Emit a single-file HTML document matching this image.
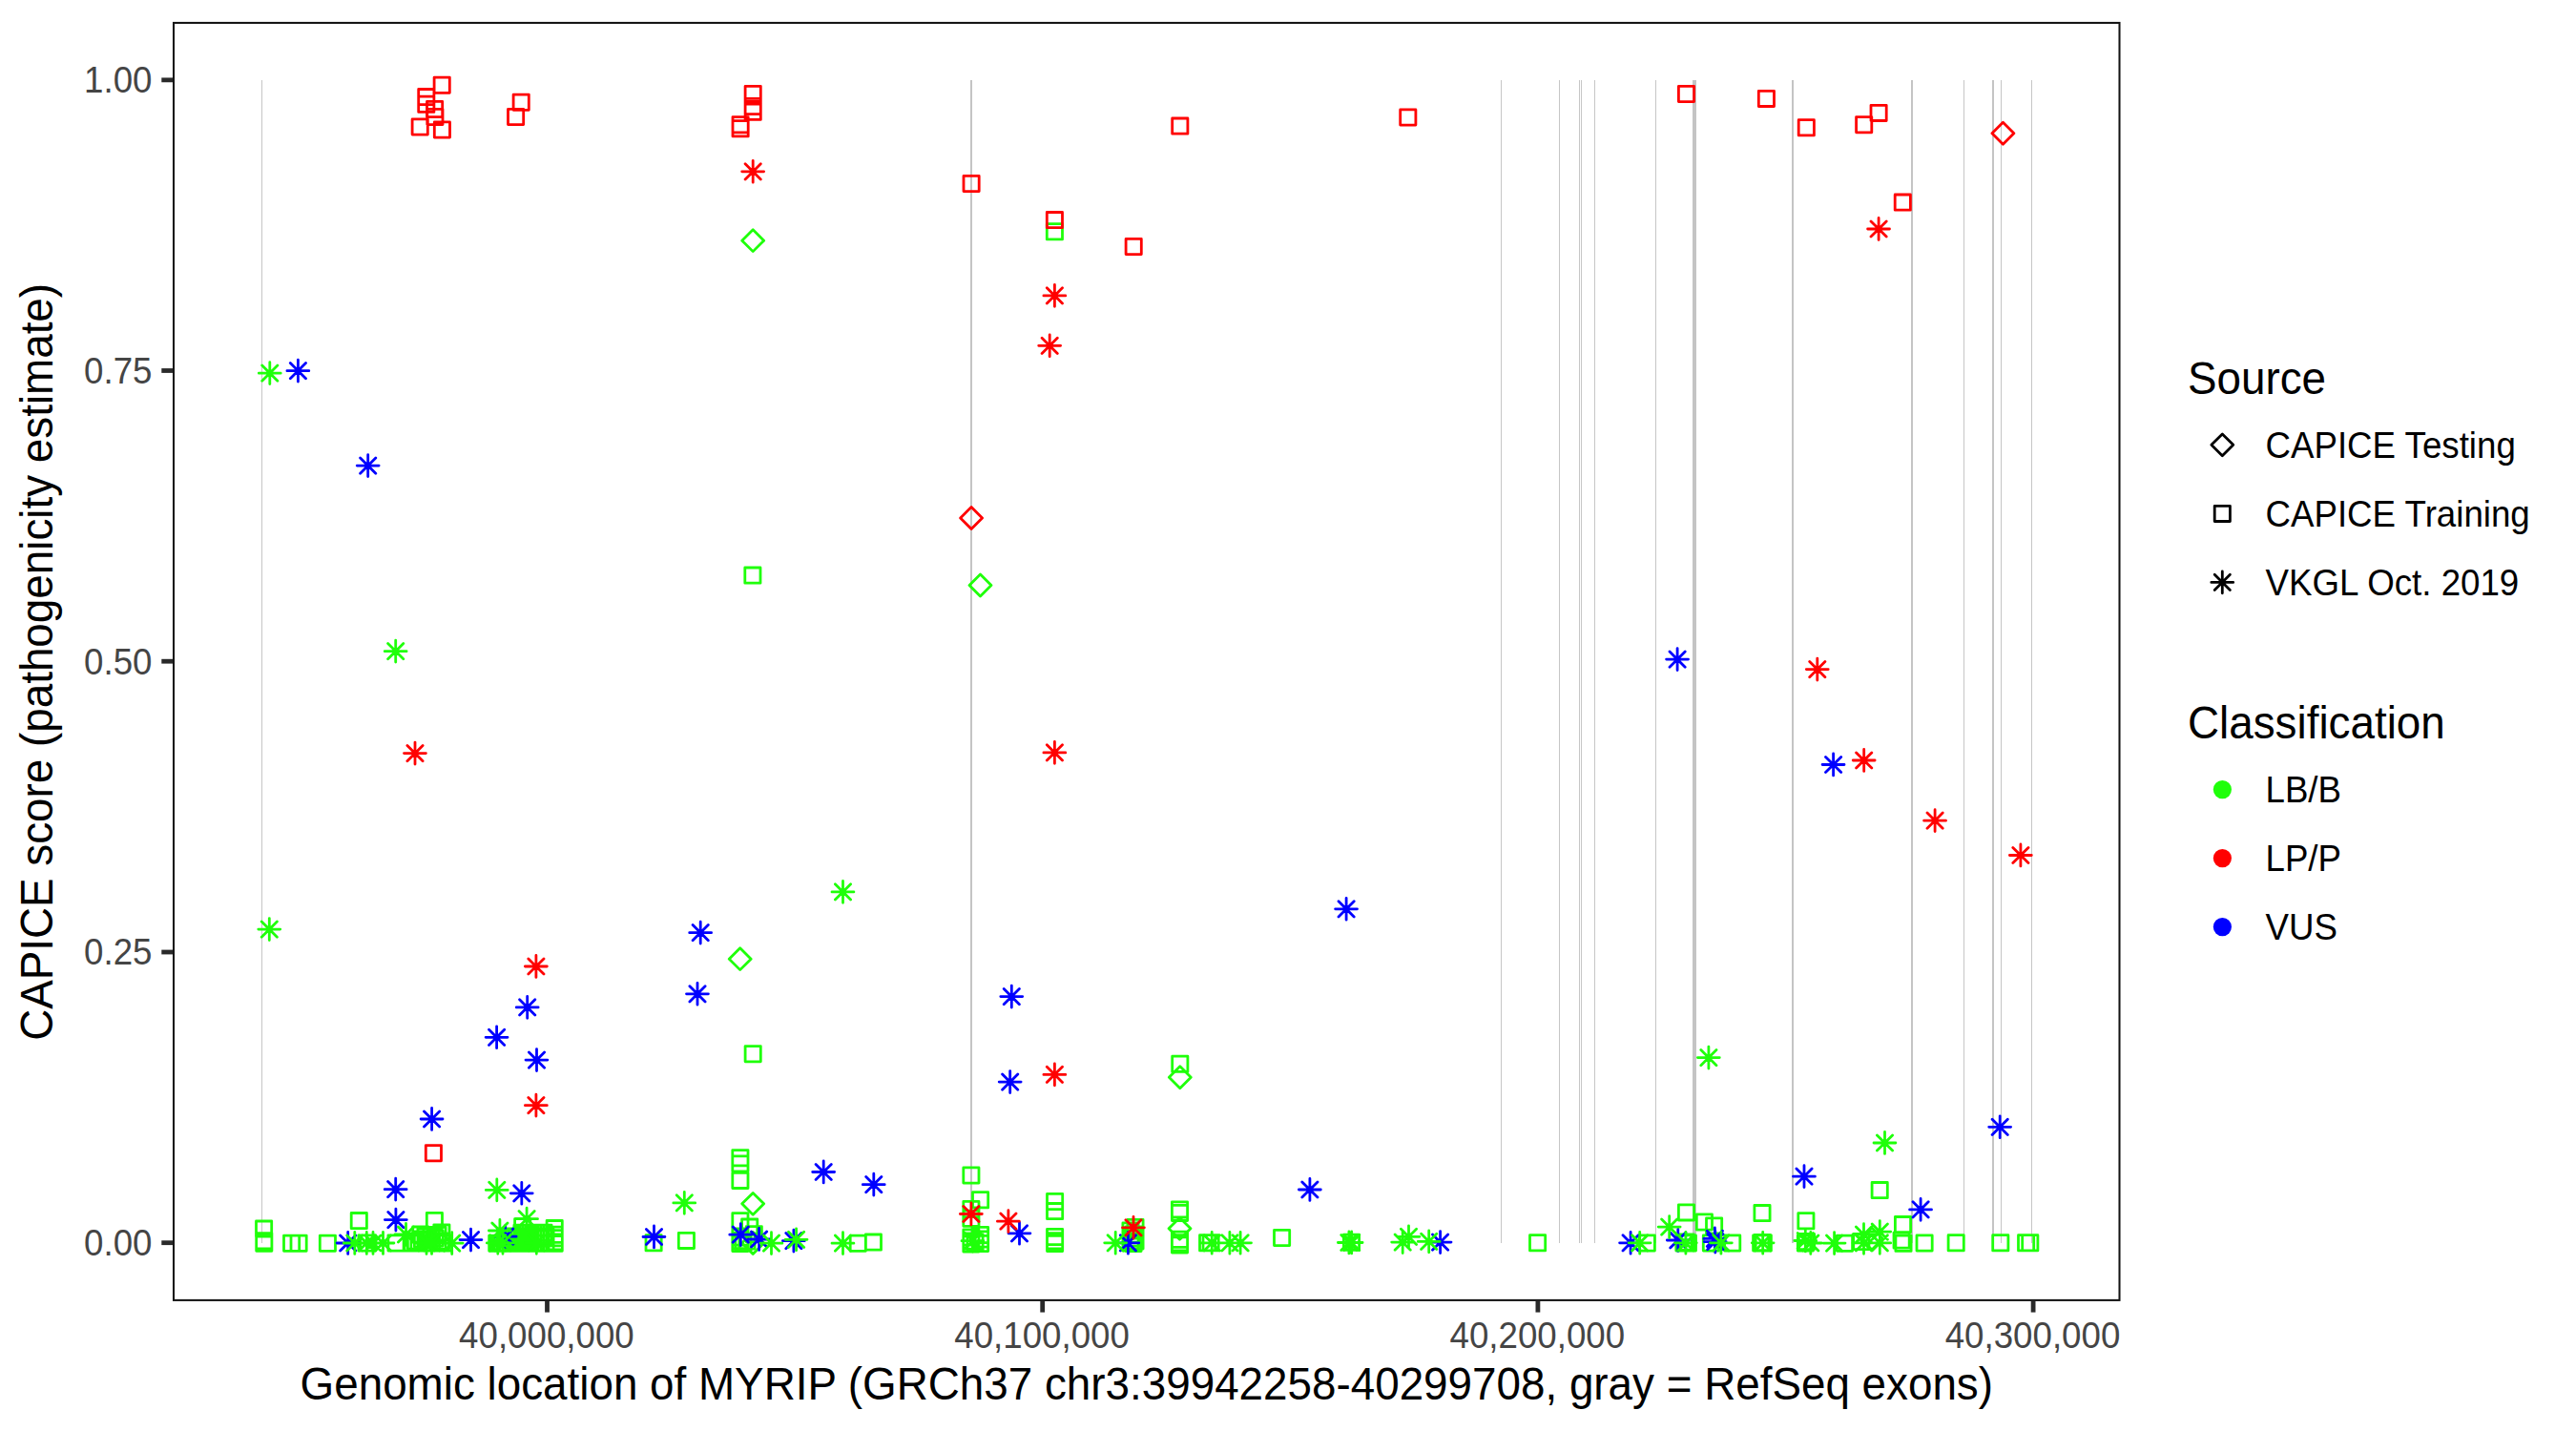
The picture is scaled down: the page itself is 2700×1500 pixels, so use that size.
<!DOCTYPE html>
<html lang="en"><head><meta charset="utf-8"><title>CAPICE scores across MYRIP</title>
<style>
html,body{margin:0;padding:0;background:#fff;}
svg{display:block;}
text{font-family:"Liberation Sans",Arial,Helvetica,sans-serif;}
.tk{font-size:36.7px;fill:#454545;}
.ti{font-size:45.8px;fill:#000;}
.lg{font-size:36.7px;fill:#000;}
.p{fill:none;stroke-width:2.8;stroke-linecap:round;stroke-linejoin:round;}
</style></head><body>
<svg width="2700" height="1500" viewBox="0 0 2700 1500">
<rect width="2700" height="1500" fill="#fff"/>
<g>
<rect x="274.00" y="84" width="1" height="1219" fill="#C6C6C6"/>
<rect x="1017.00" y="84" width="2" height="1219" fill="#C4C4C4"/>
<rect x="1573.00" y="84" width="1" height="1219" fill="#C6C6C6"/>
<rect x="1634.00" y="84" width="1" height="1219" fill="#C6C6C6"/>
<rect x="1655.00" y="84" width="1" height="1219" fill="#C6C6C6"/>
<rect x="1657.00" y="84" width="1" height="1219" fill="#C6C6C6"/>
<rect x="1671.00" y="84" width="1" height="1219" fill="#C6C6C6"/>
<rect x="1735.00" y="84" width="1" height="1219" fill="#C6C6C6"/>
<rect x="1774.00" y="84" width="4" height="1219" fill="#C4C4C4"/>
<rect x="1878.00" y="84" width="2" height="1219" fill="#C4C4C4"/>
<rect x="2003.00" y="84" width="2" height="1219" fill="#C4C4C4"/>
<rect x="2058.00" y="84" width="1" height="1219" fill="#C6C6C6"/>
<rect x="2088.00" y="84" width="2" height="1219" fill="#C4C4C4"/>
<rect x="2097.00" y="84" width="1" height="1219" fill="#C6C6C6"/>
<rect x="2129.00" y="84" width="1" height="1219" fill="#C6C6C6"/>
</g>
<g class="p">
<path stroke="#1FFF0A" d="M268.5,1280.0h16.2v16.2h-16.2zM268.7,1292.6h16.2v16.2h-16.2zM268.7,1295.1h16.2v16.2h-16.2zM297.5,1295.1h16.2v16.2h-16.2zM305.0,1295.1h16.2v16.2h-16.2zM335.3,1295.1h16.2v16.2h-16.2zM368.2,1271.5h16.2v16.2h-16.2zM447.3,1271.4h16.2v16.2h-16.2zM406.9,1294.9h16.2v16.2h-16.2zM375.9,1294.9h16.2v16.2h-16.2zM377.7,1294.9h16.2v16.2h-16.2zM432.7,1286.0h16.2v16.2h-16.2zM454.8,1283.8h16.2v16.2h-16.2zM424.1,1294.9h16.2v16.2h-16.2zM427.4,1292.9h16.2v16.2h-16.2zM430.9,1294.9h16.2v16.2h-16.2zM434.4,1290.9h16.2v16.2h-16.2zM437.9,1294.9h16.2v16.2h-16.2zM440.9,1291.9h16.2v16.2h-16.2zM444.4,1294.9h16.2v16.2h-16.2zM447.9,1289.9h16.2v16.2h-16.2zM450.9,1294.9h16.2v16.2h-16.2zM454.4,1292.9h16.2v16.2h-16.2zM457.4,1294.9h16.2v16.2h-16.2zM443.9,1286.9h16.2v16.2h-16.2zM437.9,1287.9h16.2v16.2h-16.2zM450.9,1286.4h16.2v16.2h-16.2zM539.6,1277.7h16.2v16.2h-16.2zM512.7,1295.1h16.2v16.2h-16.2zM515.4,1295.1h16.2v16.2h-16.2zM517.9,1295.1h16.2v16.2h-16.2zM520.9,1295.1h16.2v16.2h-16.2zM523.9,1295.1h16.2v16.2h-16.2zM526.9,1295.1h16.2v16.2h-16.2zM526.9,1289.9h16.2v16.2h-16.2zM529.9,1295.1h16.2v16.2h-16.2zM529.9,1287.9h16.2v16.2h-16.2zM532.9,1295.1h16.2v16.2h-16.2zM532.9,1289.9h16.2v16.2h-16.2zM535.9,1295.1h16.2v16.2h-16.2zM535.9,1287.9h16.2v16.2h-16.2zM538.9,1295.1h16.2v16.2h-16.2zM538.9,1289.9h16.2v16.2h-16.2zM538.9,1284.2h16.2v16.2h-16.2zM541.9,1295.1h16.2v16.2h-16.2zM541.9,1287.9h16.2v16.2h-16.2zM541.9,1284.2h16.2v16.2h-16.2zM544.9,1295.1h16.2v16.2h-16.2zM544.9,1289.9h16.2v16.2h-16.2zM544.9,1284.2h16.2v16.2h-16.2zM547.9,1295.1h16.2v16.2h-16.2zM547.9,1287.9h16.2v16.2h-16.2zM547.9,1284.2h16.2v16.2h-16.2zM550.9,1295.1h16.2v16.2h-16.2zM550.9,1289.9h16.2v16.2h-16.2zM550.9,1284.2h16.2v16.2h-16.2zM553.9,1295.1h16.2v16.2h-16.2zM553.9,1287.9h16.2v16.2h-16.2zM553.9,1284.2h16.2v16.2h-16.2zM556.9,1295.1h16.2v16.2h-16.2zM556.9,1289.9h16.2v16.2h-16.2zM556.9,1284.2h16.2v16.2h-16.2zM558.9,1295.1h16.2v16.2h-16.2zM558.9,1287.9h16.2v16.2h-16.2zM558.9,1284.2h16.2v16.2h-16.2zM573.1,1279.5h16.2v16.2h-16.2zM573.1,1286.1h16.2v16.2h-16.2zM573.1,1289.6h16.2v16.2h-16.2zM573.1,1293.8h16.2v16.2h-16.2zM573.1,1295.1h16.2v16.2h-16.2zM563.9,1295.1h16.2v16.2h-16.2zM563.9,1288.4h16.2v16.2h-16.2zM561.9,1284.2h16.2v16.2h-16.2zM677.0,1294.7h16.2v16.2h-16.2zM711.3,1292.3h16.2v16.2h-16.2zM767.8,1205.6h16.2v16.2h-16.2zM767.8,1211.8h16.2v16.2h-16.2zM767.8,1229.3h16.2v16.2h-16.2zM767.8,1271.7h16.2v16.2h-16.2zM777.6,1278.0h16.2v16.2h-16.2zM782.2,1285.6h16.2v16.2h-16.2zM767.8,1288.9h16.2v16.2h-16.2zM767.8,1292.4h16.2v16.2h-16.2zM767.8,1295.4h16.2v16.2h-16.2zM770.9,1294.9h16.2v16.2h-16.2zM774.9,1292.9h16.2v16.2h-16.2zM891.2,1295.1h16.2v16.2h-16.2zM907.3,1294.0h16.2v16.2h-16.2zM1009.8,1223.9h16.2v16.2h-16.2zM1019.5,1249.7h16.2v16.2h-16.2zM1009.8,1259.4h16.2v16.2h-16.2zM1009.8,1269.1h16.2v16.2h-16.2zM1009.8,1288.9h16.2v16.2h-16.2zM1009.8,1292.9h16.2v16.2h-16.2zM1009.8,1295.9h16.2v16.2h-16.2zM1019.5,1286.4h16.2v16.2h-16.2zM1019.5,1290.9h16.2v16.2h-16.2zM1019.5,1295.4h16.2v16.2h-16.2zM1013.9,1293.9h16.2v16.2h-16.2zM1097.5,1251.4h16.2v16.2h-16.2zM1097.5,1261.5h16.2v16.2h-16.2zM1097.5,1288.4h16.2v16.2h-16.2zM1097.5,1292.6h16.2v16.2h-16.2zM1097.5,1295.4h16.2v16.2h-16.2zM1176.9,1281.9h16.2v16.2h-16.2zM1181.9,1278.4h16.2v16.2h-16.2zM1179.9,1285.9h16.2v16.2h-16.2zM1177.9,1289.9h16.2v16.2h-16.2zM1181.9,1292.9h16.2v16.2h-16.2zM1179.9,1295.4h16.2v16.2h-16.2zM1176.9,1294.9h16.2v16.2h-16.2zM1228.4,1259.8h16.2v16.2h-16.2zM1228.4,1263.3h16.2v16.2h-16.2zM1228.4,1291.2h16.2v16.2h-16.2zM1228.4,1294.7h16.2v16.2h-16.2zM1228.4,1296.9h16.2v16.2h-16.2zM1257.5,1294.7h16.2v16.2h-16.2zM1261.0,1294.7h16.2v16.2h-16.2zM1335.5,1289.4h16.2v16.2h-16.2zM1408.4,1294.2h16.2v16.2h-16.2zM1603.5,1294.7h16.2v16.2h-16.2zM1718.2,1294.9h16.2v16.2h-16.2zM1759.4,1262.8h16.2v16.2h-16.2zM1756.8,1294.9h16.2v16.2h-16.2zM1761.3,1294.9h16.2v16.2h-16.2zM1759.1,1293.9h16.2v16.2h-16.2zM1778.3,1272.9h16.2v16.2h-16.2zM1788.5,1276.8h16.2v16.2h-16.2zM1785.3,1294.9h16.2v16.2h-16.2zM1807.6,1294.9h16.2v16.2h-16.2zM1838.9,1263.5h16.2v16.2h-16.2zM1837.6,1294.9h16.2v16.2h-16.2zM1840.2,1294.9h16.2v16.2h-16.2zM1838.9,1294.4h16.2v16.2h-16.2zM1884.8,1271.7h16.2v16.2h-16.2zM1884.3,1294.9h16.2v16.2h-16.2zM1885.4,1293.4h16.2v16.2h-16.2zM1925.4,1295.1h16.2v16.2h-16.2zM1942.7,1293.5h16.2v16.2h-16.2zM1962.1,1239.5h16.2v16.2h-16.2zM1986.4,1275.5h16.2v16.2h-16.2zM1985.0,1292.0h16.2v16.2h-16.2zM1986.9,1295.2h16.2v16.2h-16.2zM2009.0,1294.9h16.2v16.2h-16.2zM2042.1,1294.7h16.2v16.2h-16.2zM2088.7,1294.7h16.2v16.2h-16.2zM2115.5,1294.7h16.2v16.2h-16.2zM2119.7,1294.7h16.2v16.2h-16.2zM1097.3,234.7h16.2v16.2h-16.2zM780.8,595.0h16.2v16.2h-16.2zM781.1,1096.6h16.2v16.2h-16.2zM1228.7,1107.2h16.2v16.2h-16.2z"/>
<path stroke="#FF0000" d="M455.1,81.1h16.2v16.2h-16.2zM438.7,93.5h16.2v16.2h-16.2zM438.7,101.2h16.2v16.2h-16.2zM447.5,106.4h16.2v16.2h-16.2zM447.8,114.4h16.2v16.2h-16.2zM432.1,124.9h16.2v16.2h-16.2zM455.3,127.9h16.2v16.2h-16.2zM538.1,99.1h16.2v16.2h-16.2zM532.5,114.4h16.2v16.2h-16.2zM781.1,90.3h16.2v16.2h-16.2zM781.1,103.4h16.2v16.2h-16.2zM781.1,109.2h16.2v16.2h-16.2zM768.0,122.6h16.2v16.2h-16.2zM768.0,126.7h16.2v16.2h-16.2zM1010.0,184.4h16.2v16.2h-16.2zM1097.3,222.5h16.2v16.2h-16.2zM1180.1,250.4h16.2v16.2h-16.2zM1228.7,124.0h16.2v16.2h-16.2zM1467.7,114.9h16.2v16.2h-16.2zM1759.4,90.4h16.2v16.2h-16.2zM1843.3,95.3h16.2v16.2h-16.2zM1885.2,125.7h16.2v16.2h-16.2zM1945.6,122.6h16.2v16.2h-16.2zM1961.0,110.3h16.2v16.2h-16.2zM1986.2,204.0h16.2v16.2h-16.2zM446.3,1200.6h16.2v16.2h-16.2z"/>
<path stroke="#1FFF0A" d="M789.2,240.7l11.46,11.46l-11.46,11.46l-11.46,-11.46zM1027.5,602.1l11.46,11.46l-11.46,11.46l-11.46,-11.46zM775.7,993.7l11.46,11.46l-11.46,11.46l-11.46,-11.46zM1236.8,1117.8l11.46,11.46l-11.46,11.46l-11.46,-11.46zM789.2,1250.4l11.46,11.46l-11.46,11.46l-11.46,-11.46zM1236.5,1276.4l11.46,11.46l-11.46,11.46l-11.46,-11.46zM789.2,1291.5l11.46,11.46l-11.46,11.46l-11.46,-11.46zM1962.0,1287.1l11.46,11.46l-11.46,11.46l-11.46,-11.46z"/>
<path stroke="#FF0000" d="M2099.4,128.3l11.46,11.46l-11.46,11.46l-11.46,-11.46zM1018.1,531.5l11.46,11.46l-11.46,11.46l-11.46,-11.46z"/>
<path stroke="#0000FF" d="M300.9,388.7h22.91M312.4,377.2v22.91M304.3,380.6l16.2,16.2M304.3,396.8l16.2,-16.2M374.2,488.1h22.91M385.7,476.6v22.91M377.6,480.0l16.2,16.2M377.6,496.2l16.2,-16.2M1746.6,691.1h22.91M1758.1,679.6v22.91M1750.0,683.0l16.2,16.2M1750.0,699.2l16.2,-16.2M1910.1,801.5h22.91M1921.6,790.0v22.91M1913.5,793.4l16.2,16.2M1913.5,809.6l16.2,-16.2M1399.6,952.8h22.91M1411.1,941.3v22.91M1403.0,944.7l16.2,16.2M1403.0,960.9l16.2,-16.2M722.7,977.7h22.91M734.2,966.2v22.91M726.1,969.6l16.2,16.2M726.1,985.8l16.2,-16.2M719.5,1041.8h22.91M731.0,1030.3v22.91M722.9,1033.7l16.2,16.2M722.9,1049.9l16.2,-16.2M1048.8,1044.6h22.91M1060.3,1033.1v22.91M1052.2,1036.5l16.2,16.2M1052.2,1052.7l16.2,-16.2M541.2,1055.9h22.91M552.7,1044.4v22.91M544.6,1047.8l16.2,16.2M544.6,1064.0l16.2,-16.2M509.1,1087.3h22.91M520.6,1075.8v22.91M512.5,1079.2l16.2,16.2M512.5,1095.4l16.2,-16.2M551.0,1111.1h22.91M562.5,1099.6v22.91M554.4,1103.0l16.2,16.2M554.4,1119.2l16.2,-16.2M1047.2,1134.1h22.91M1058.7,1122.6v22.91M1050.6,1126.0l16.2,16.2M1050.6,1142.2l16.2,-16.2M441.1,1173.0h22.91M452.6,1161.5v22.91M444.5,1164.9l16.2,16.2M444.5,1181.1l16.2,-16.2M2084.7,1181.3h22.91M2096.2,1169.8v22.91M2088.1,1173.2l16.2,16.2M2088.1,1189.4l16.2,-16.2M851.7,1228.5h22.91M863.2,1217.0v22.91M855.1,1220.4l16.2,16.2M855.1,1236.6l16.2,-16.2M1879.5,1233.2h22.91M1891.0,1221.7v22.91M1882.9,1225.1l16.2,16.2M1882.9,1241.3l16.2,-16.2M904.3,1241.7h22.91M915.8,1230.2v22.91M907.7,1233.6l16.2,16.2M907.7,1249.8l16.2,-16.2M403.2,1246.7h22.91M414.7,1235.2v22.91M406.6,1238.6l16.2,16.2M406.6,1254.8l16.2,-16.2M1361.4,1247.0h22.91M1372.9,1235.5v22.91M1364.8,1238.9l16.2,16.2M1364.8,1255.1l16.2,-16.2M535.3,1250.8h22.91M546.8,1239.3v22.91M538.7,1242.7l16.2,16.2M538.7,1258.9l16.2,-16.2M2001.6,1267.9h22.91M2013.1,1256.4v22.91M2005.0,1259.8l16.2,16.2M2005.0,1276.0l16.2,-16.2M403.4,1278.6h22.91M414.9,1267.1v22.91M406.8,1270.5l16.2,16.2M406.8,1286.7l16.2,-16.2M1057.0,1292.8h22.91M1068.5,1281.3v22.91M1060.4,1284.7l16.2,16.2M1060.4,1300.9l16.2,-16.2M764.8,1294.2h22.91M776.3,1282.7v22.91M768.2,1286.1l16.2,16.2M768.2,1302.3l16.2,-16.2M518.2,1296.2h22.91M529.7,1284.7v22.91M521.6,1288.1l16.2,16.2M521.6,1304.3l16.2,-16.2M674.0,1296.5h22.91M685.5,1285.0v22.91M677.4,1288.4l16.2,16.2M677.4,1304.6l16.2,-16.2M784.1,1299.0h22.91M795.6,1287.5v22.91M787.5,1290.9l16.2,16.2M787.5,1307.1l16.2,-16.2M482.0,1299.6h22.91M493.5,1288.1v22.91M485.4,1291.5l16.2,16.2M485.4,1307.7l16.2,-16.2M820.4,1300.7h22.91M831.9,1289.2v22.91M823.8,1292.6l16.2,16.2M823.8,1308.8l16.2,-16.2M1747.3,1300.0h22.91M1758.8,1288.5v22.91M1750.7,1291.9l16.2,16.2M1750.7,1308.1l16.2,-16.2M1785.9,1298.4h22.91M1797.4,1286.9v22.91M1789.3,1290.3l16.2,16.2M1789.3,1306.5l16.2,-16.2M1786.3,1301.6h22.91M1797.8,1290.1v22.91M1789.7,1293.5l16.2,16.2M1789.7,1309.7l16.2,-16.2M353.2,1303.0h22.91M364.7,1291.5v22.91M356.6,1294.9l16.2,16.2M356.6,1311.1l16.2,-16.2M1170.9,1302.8h22.91M1182.4,1291.3v22.91M1174.3,1294.7l16.2,16.2M1174.3,1310.9l16.2,-16.2M1498.1,1302.1h22.91M1509.6,1290.6v22.91M1501.5,1294.0l16.2,16.2M1501.5,1310.2l16.2,-16.2M1697.6,1302.8h22.91M1709.1,1291.3v22.91M1701.0,1294.7l16.2,16.2M1701.0,1310.9l16.2,-16.2"/>
<path stroke="#1FFF0A" d="M271.3,391.2h22.91M282.8,379.7v22.91M274.7,383.1l16.2,16.2M274.7,399.3l16.2,-16.2M403.2,682.7h22.91M414.7,671.2v22.91M406.6,674.6l16.2,16.2M406.6,690.8l16.2,-16.2M270.8,974.1h22.91M282.3,962.6v22.91M274.2,966.0l16.2,16.2M274.2,982.2l16.2,-16.2M872.0,934.9h22.91M883.5,923.4v22.91M875.4,926.8l16.2,16.2M875.4,943.0l16.2,-16.2M1779.4,1108.6h22.91M1790.9,1097.1v22.91M1782.8,1100.5l16.2,16.2M1782.8,1116.7l16.2,-16.2M1964.0,1198.0h22.91M1975.5,1186.5v22.91M1967.4,1189.9l16.2,16.2M1967.4,1206.1l16.2,-16.2M509.3,1247.4h22.91M520.8,1235.9v22.91M512.7,1239.3l16.2,16.2M512.7,1255.5l16.2,-16.2M705.8,1260.9h22.91M717.3,1249.4v22.91M709.2,1252.8l16.2,16.2M709.2,1269.0l16.2,-16.2M540.6,1277.7h22.91M552.1,1266.2v22.91M544.0,1269.6l16.2,16.2M544.0,1285.8l16.2,-16.2M512.4,1290.0h22.91M523.9,1278.5v22.91M515.8,1281.9l16.2,16.2M515.8,1298.1l16.2,-16.2M414.0,1294.0h22.91M425.5,1282.5v22.91M417.4,1285.9l16.2,16.2M417.4,1302.1l16.2,-16.2M1738.2,1286.1h22.91M1749.7,1274.6v22.91M1741.6,1278.0l16.2,16.2M1741.6,1294.2l16.2,-16.2M1465.0,1296.3h22.91M1476.5,1284.8v22.91M1468.4,1288.2l16.2,16.2M1468.4,1304.4l16.2,-16.2M360.3,1303.0h22.91M371.8,1291.5v22.91M363.7,1294.9l16.2,16.2M363.7,1311.1l16.2,-16.2M372.8,1303.0h22.91M384.3,1291.5v22.91M376.2,1294.9l16.2,16.2M376.2,1311.1l16.2,-16.2M379.5,1303.0h22.91M391.0,1291.5v22.91M382.9,1294.9l16.2,16.2M382.9,1311.1l16.2,-16.2M390.0,1303.0h22.91M401.5,1291.5v22.91M393.4,1294.9l16.2,16.2M393.4,1311.1l16.2,-16.2M435.5,1303.0h22.91M447.0,1291.5v22.91M438.9,1294.9l16.2,16.2M438.9,1311.1l16.2,-16.2M441.0,1303.0h22.91M452.5,1291.5v22.91M444.4,1294.9l16.2,16.2M444.4,1311.1l16.2,-16.2M462.2,1303.1h22.91M473.7,1291.6v22.91M465.6,1295.0l16.2,16.2M465.6,1311.2l16.2,-16.2M510.3,1302.9h22.91M521.8,1291.4v22.91M513.7,1294.8l16.2,16.2M513.7,1311.0l16.2,-16.2M515.5,1302.9h22.91M527.0,1291.4v22.91M518.9,1294.8l16.2,16.2M518.9,1311.0l16.2,-16.2M550.8,1302.9h22.91M562.3,1291.4v22.91M554.2,1294.8l16.2,16.2M554.2,1311.0l16.2,-16.2M797.0,1303.2h22.91M808.5,1291.7v22.91M800.4,1295.1l16.2,16.2M800.4,1311.3l16.2,-16.2M823.1,1299.3h22.91M834.6,1287.8v22.91M826.5,1291.2l16.2,16.2M826.5,1307.4l16.2,-16.2M872.0,1303.2h22.91M883.5,1291.7v22.91M875.4,1295.1l16.2,16.2M875.4,1311.3l16.2,-16.2M1008.0,1300.7h22.91M1019.5,1289.2v22.91M1011.4,1292.6l16.2,16.2M1011.4,1308.8l16.2,-16.2M1157.7,1302.8h22.91M1169.2,1291.3v22.91M1161.1,1294.7l16.2,16.2M1161.1,1310.9l16.2,-16.2M1258.7,1302.8h22.91M1270.2,1291.3v22.91M1262.1,1294.7l16.2,16.2M1262.1,1310.9l16.2,-16.2M1277.4,1302.8h22.91M1288.9,1291.3v22.91M1280.8,1294.7l16.2,16.2M1280.8,1310.9l16.2,-16.2M1288.6,1302.8h22.91M1300.1,1291.3v22.91M1292.0,1294.7l16.2,16.2M1292.0,1310.9l16.2,-16.2M1402.4,1302.5h22.91M1413.9,1291.0v22.91M1405.8,1294.4l16.2,16.2M1405.8,1310.6l16.2,-16.2M1405.2,1302.5h22.91M1416.7,1291.0v22.91M1408.6,1294.4l16.2,16.2M1408.6,1310.6l16.2,-16.2M1458.7,1302.1h22.91M1470.2,1290.6v22.91M1462.1,1294.0l16.2,16.2M1462.1,1310.2l16.2,-16.2M1486.2,1301.4h22.91M1497.7,1289.9v22.91M1489.6,1293.3l16.2,16.2M1489.6,1309.5l16.2,-16.2M1707.2,1302.8h22.91M1718.7,1291.3v22.91M1710.6,1294.7l16.2,16.2M1710.6,1310.9l16.2,-16.2M1755.4,1302.8h22.91M1766.9,1291.3v22.91M1758.8,1294.7l16.2,16.2M1758.8,1310.9l16.2,-16.2M1792.4,1302.8h22.91M1803.9,1291.3v22.91M1795.8,1294.7l16.2,16.2M1795.8,1310.9l16.2,-16.2M1836.2,1302.8h22.91M1847.7,1291.3v22.91M1839.6,1294.7l16.2,16.2M1839.6,1310.9l16.2,-16.2M1880.8,1300.5h22.91M1892.3,1289.0v22.91M1884.2,1292.4l16.2,16.2M1884.2,1308.6l16.2,-16.2M1886.3,1303.0h22.91M1897.8,1291.5v22.91M1889.7,1294.9l16.2,16.2M1889.7,1311.1l16.2,-16.2M1911.1,1303.1h22.91M1922.6,1291.6v22.91M1914.5,1295.0l16.2,16.2M1914.5,1311.2l16.2,-16.2M1942.0,1294.2h22.91M1953.5,1282.7v22.91M1945.4,1286.1l16.2,16.2M1945.4,1302.3l16.2,-16.2M1942.0,1302.9h22.91M1953.5,1291.4v22.91M1945.4,1294.8l16.2,16.2M1945.4,1311.0l16.2,-16.2M1958.8,1291.1h22.91M1970.3,1279.6v22.91M1962.2,1283.0l16.2,16.2M1962.2,1299.2l16.2,-16.2M1958.8,1302.9h22.91M1970.3,1291.4v22.91M1962.2,1294.8l16.2,16.2M1962.2,1311.0l16.2,-16.2"/>
<path stroke="#FF0000" d="M777.7,179.8h22.91M789.2,168.3v22.91M781.1,171.7l16.2,16.2M781.1,187.9l16.2,-16.2M1093.9,309.9h22.91M1105.4,298.4v22.91M1097.3,301.8l16.2,16.2M1097.3,318.0l16.2,-16.2M1088.7,362.3h22.91M1100.2,350.8v22.91M1092.1,354.2l16.2,16.2M1092.1,370.4l16.2,-16.2M1957.6,240.0h22.91M1969.1,228.5v22.91M1961.0,231.9l16.2,16.2M1961.0,248.1l16.2,-16.2M423.5,789.6h22.91M435.0,778.1v22.91M426.9,781.5l16.2,16.2M426.9,797.7l16.2,-16.2M1093.9,788.9h22.91M1105.4,777.4v22.91M1097.3,780.8l16.2,16.2M1097.3,797.0l16.2,-16.2M1893.3,701.6h22.91M1904.8,690.1v22.91M1896.7,693.5l16.2,16.2M1896.7,709.7l16.2,-16.2M1942.2,797.0h22.91M1953.7,785.5v22.91M1945.6,788.9l16.2,16.2M1945.6,805.1l16.2,-16.2M2016.6,860.2h22.91M2028.1,848.7v22.91M2020.0,852.1l16.2,16.2M2020.0,868.3l16.2,-16.2M2106.4,896.5h22.91M2117.9,885.0v22.91M2109.8,888.4l16.2,16.2M2109.8,904.6l16.2,-16.2M550.4,1013.0h22.91M561.9,1001.5v22.91M553.8,1004.9l16.2,16.2M553.8,1021.1l16.2,-16.2M550.4,1158.7h22.91M561.9,1147.2v22.91M553.8,1150.6l16.2,16.2M553.8,1166.8l16.2,-16.2M1093.9,1126.4h22.91M1105.4,1114.9v22.91M1097.3,1118.3l16.2,16.2M1097.3,1134.5l16.2,-16.2M1006.4,1272.5h22.91M1017.9,1261.0v22.91M1009.8,1264.4l16.2,16.2M1009.8,1280.6l16.2,-16.2M1045.4,1280.2h22.91M1056.9,1268.7v22.91M1048.8,1272.1l16.2,16.2M1048.8,1288.3l16.2,-16.2M1176.5,1286.8h22.91M1188.0,1275.3v22.91M1179.9,1278.7l16.2,16.2M1179.9,1294.9l16.2,-16.2"/>
</g>
<rect x="182.0" y="23.95" width="2039.5" height="1338.95" fill="none" stroke="#141414" stroke-width="2.05"/>
<g stroke="#2A2A2A" stroke-width="4.8">
<line x1="169.3" x2="181.1" y1="83.85" y2="83.85"/>
<line x1="169.3" x2="181.1" y1="388.5" y2="388.5"/>
<line x1="169.3" x2="181.1" y1="693.2" y2="693.2"/>
<line x1="169.3" x2="181.1" y1="998.0" y2="998.0"/>
<line x1="169.3" x2="181.1" y1="1302.7" y2="1302.7"/>
<line x1="573.5" x2="573.5" y1="1363.8" y2="1375.6"/>
<line x1="1092.7" x2="1092.7" y1="1363.8" y2="1375.6"/>
<line x1="1611.9" x2="1611.9" y1="1363.8" y2="1375.6"/>
<line x1="2131.1" x2="2131.1" y1="1363.8" y2="1375.6"/>
</g>
<text class="tk" transform="translate(159.5,97.2) scale(1,1.045)" text-anchor="end">1.00</text>
<text class="tk" transform="translate(159.5,401.9) scale(1,1.045)" text-anchor="end">0.75</text>
<text class="tk" transform="translate(159.5,706.6) scale(1,1.045)" text-anchor="end">0.50</text>
<text class="tk" transform="translate(159.5,1011.4) scale(1,1.045)" text-anchor="end">0.25</text>
<text class="tk" transform="translate(159.5,1316.1) scale(1,1.045)" text-anchor="end">0.00</text>
<text class="tk" transform="translate(572.9,1413.0) scale(1,1.045)" text-anchor="middle">40,000,000</text>
<text class="tk" transform="translate(1092.1,1413.0) scale(1,1.045)" text-anchor="middle">40,100,000</text>
<text class="tk" transform="translate(1611.3,1413.0) scale(1,1.045)" text-anchor="middle">40,200,000</text>
<text class="tk" transform="translate(2130.5,1413.0) scale(1,1.045)" text-anchor="middle">40,300,000</text>
<text class="ti" transform="translate(1201.8,1466.8) scale(1,1.045)" text-anchor="middle">Genomic location of MYRIP (GRCh37 chr3:39942258-40299708, gray = RefSeq exons)</text>
<text class="ti" transform="translate(55.4,693.9) rotate(-90) scale(1,1.045)" text-anchor="middle">CAPICE score (pathogenicity estimate)</text>
<text class="ti" transform="translate(2293.0,413.0) scale(1,1.045)">Source</text>
<g class="p" stroke="#000"><path d="M2329.3,454.9l11.46,11.46l-11.46,11.46l-11.46,-11.46z"/><path d="M2321.2,530.3h16.2v16.2h-16.2z"/><path d="M2317.8,610.4h22.91M2329.3,598.9v22.91M2321.2,602.3l16.2,16.2M2321.2,618.5l16.2,-16.2"/></g>
<text class="lg" transform="translate(2374.5,479.5) scale(1,1.045)">CAPICE Testing</text>
<text class="lg" transform="translate(2374.5,551.5) scale(1,1.045)">CAPICE Training</text>
<text class="lg" transform="translate(2374.5,623.5) scale(1,1.045)">VKGL Oct. 2019</text>
<text class="ti" transform="translate(2293.0,774.3) scale(1,1.045)">Classification</text>
<circle cx="2329.4" cy="827.6" r="9.6" fill="#1FFF0A"/>
<text class="lg" transform="translate(2374.5,840.7) scale(1,1.045)">LB/B</text>
<circle cx="2329.4" cy="899.6" r="9.6" fill="#FF0000"/>
<text class="lg" transform="translate(2374.5,912.7) scale(1,1.045)">LP/P</text>
<circle cx="2329.4" cy="971.6" r="9.6" fill="#0000FF"/>
<text class="lg" transform="translate(2374.5,984.7) scale(1,1.045)">VUS</text>
</svg></body></html>
